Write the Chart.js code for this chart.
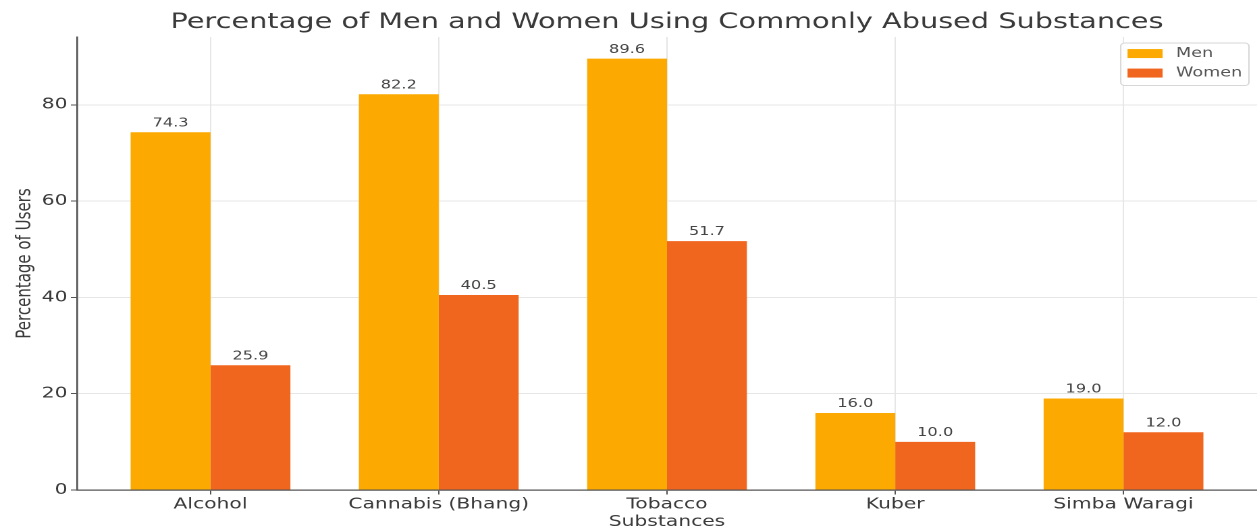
<!DOCTYPE html>
<html>
<head>
<meta charset="utf-8">
<script src="https://cdn.jsdelivr.net/npm/chart.js@4.4.1/dist/chart.umd.min.js"></script>
<style>
html, body { margin: 0; padding: 0; background: #fff; overflow: hidden; }
/* the figure is drawn narrow and stretched sideways */
#wrap { width: 931px; height: 531px; transform: scaleX(1.3502); transform-origin: 0 0; }
</style>
</head>
<body>
<div id="wrap"><canvas id="usageChart" width="931" height="531"></canvas></div>
<script>
// Usage by substance
const substances = ['Alcohol', 'Cannabis (Bhang)', 'Tobacco', 'Kuber', 'Simba Waragi'];
const menValues = [74.3, 82.2, 89.6, 16.0, 19.0];
const womenValues = [25.9, 40.5, 51.7, 10.0, 12.0];
const yTicks = [0, 20, 40, 60, 80];

const menColor = '#fcaa02';
const womenColor = '#f0661f';
const textColor = '#3a3a3a';
const font = 'DejaVu Sans';

const toPoints = (values) => values.map((v, i) => ({ x: i, y: v }));

const usageData = {
  datasets: [{
    label: 'Men',
    data: toPoints(menValues),
    backgroundColor: menColor,
  }, {
    label: 'Women',
    data: toPoints(womenValues),
    backgroundColor: womenColor,
  }]
};

// numbers above each bar
const valueLabels = {
  id: 'valueLabels',
  afterDatasetsDraw(chart) {
    const ctx = chart.ctx;
    ctx.save();
    ctx.font = '12px "' + font + '"';
    ctx.fillStyle = '#444';
    ctx.textAlign = 'center';
    ctx.textBaseline = 'bottom';
    chart.data.datasets.forEach((ds, i) => {
      chart.getDatasetMeta(i).data.forEach((bar, j) => {
        ctx.fillText(ds.data[j].y.toFixed(1), bar.x, bar.y - 3);
      });
    });
    ctx.restore();
  }
};

// framed legend in the upper right corner of the plot
const boxLegend = {
  id: 'boxLegend',
  afterDraw(chart) {
    const ctx = chart.ctx;
    const area = chart.chartArea;
    const fs = 13;
    const pad = 5, handleW = 26, handleH = 9, gap = 10, rowH = 19.5;
    ctx.save();
    ctx.font = fs + 'px "' + font + '"';
    const sets = chart.data.datasets;
    const textW = Math.max(...sets.map(d => ctx.measureText(d.label).width));
    const w = pad + handleW + gap + textW + pad;
    const h = pad * 2 + rowH * (sets.length - 1) + fs;
    const x = area.right - 6 - w;
    const y = area.top + 6;
    ctx.fillStyle = 'rgba(255,255,255,0.85)';
    ctx.strokeStyle = '#d6d6d6';
    ctx.lineWidth = 1;
    ctx.beginPath();
    ctx.roundRect(x, y, w, h, 3);
    ctx.fill();
    ctx.stroke();
    ctx.textBaseline = 'middle';
    sets.forEach((d, i) => {
      const cy = y + pad + fs / 2 - 1 + i * rowH;
      ctx.fillStyle = d.backgroundColor;
      ctx.fillRect(x + pad, cy - handleH / 2, handleW, handleH);
      ctx.fillStyle = '#555';
      ctx.fillText(d.label, x + pad + handleW + gap, cy);
    });
    ctx.restore();
  }
};

const config = {
  type: 'bar',
  data: usageData,
  options: {
    responsive: false,
    devicePixelRatio: 2,
    animation: false,
    events: [],
    layout: { padding: 0 },
    datasets: {
      bar: { categoryPercentage: 0.7, barPercentage: 1.0, borderWidth: 0 }
    },
    plugins: {
      legend: { display: false },
      tooltip: { enabled: false },
      title: {
        display: true,
        fullSize: false,
        text: 'Percentage of Men and Women Using Commonly Abused Substances',
        color: textColor,
        font: { family: font, size: 21.3, weight: 'normal' },
        padding: { top: 9.5, bottom: 2 }
      }
    },
    scales: {
      x: {
        type: 'linear',
        min: -0.585,
        max: 4.585,
        offset: false,
        afterBuildTicks: (scale) => {
          scale.ticks = substances.map((_, i) => ({ value: i }));
        },
        afterFit: (scale) => { scale.height = 41; },
        ticks: {
          color: textColor,
          font: { family: font, size: 15 },
          padding: 1,
          maxRotation: 0,
          callback: (v) => substances[v]
        },
        grid: { color: '#e6e6e6', offset: false, tickLength: 4.5, tickColor: '#555' },
        border: { color: '#555', width: 1.3 },
        title: {
          display: true,
          text: 'Substances',
          color: textColor,
          font: { family: font, size: 15 },
          padding: { top: 0, bottom: 0 }
        }
      },
      y: {
        min: 0,
        max: 94.08,
        afterBuildTicks: (scale) => {
          scale.ticks = yTicks.map(v => ({ value: v }));
        },
        afterFit: (scale) => { scale.width = 57; },
        ticks: {
          color: textColor,
          font: { family: font, size: 15 },
          padding: 2.5
        },
        grid: { color: '#e6e6e6', tickLength: 4.5, tickColor: '#555' },
        border: { color: '#555', width: 1.3 },
        title: {
          display: true,
          text: 'Percentage of Users',
          color: textColor,
          font: { family: font, size: 15 },
          padding: { top: 9.5, bottom: 0 }
        }
      }
    }
  },
  plugins: [valueLabels, boxLegend]
};

const usageChart = new Chart(document.getElementById('usageChart'), config);
</script>
</body>
</html>
